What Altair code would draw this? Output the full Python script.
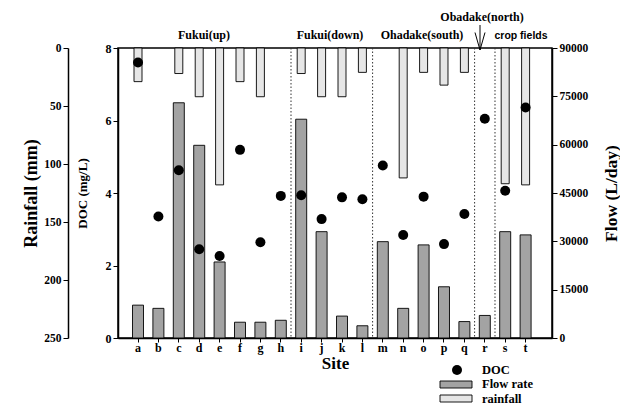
import altair as alt
import pandas as pd

# ---- data ----
sites = list("abcdefghijklmnopqrst")
doc = [7.6, 3.35, 4.63, 2.45, 2.26, 5.19, 2.64, 3.92, 3.94, 3.28,
       3.88, 3.83, 4.76, 2.84, 3.9, 2.59, 3.42, 6.05, 4.06, 6.36]
flow = [10200, 9200, 73000, 59800, 23600, 4900, 4900, 5500, 67900, 33000,
        6800, 3800, 29900, 9200, 28900, 15900, 5100, 7000, 33000, 32000]
rainfall = [29, None, 22, 42, 118, 29, 42, None, 22, 42,
            42, 21, None, 112, 21, 32, 21, None, 117, 118]
separator_sites = ["i", "m", "r", "s"]
flow_ticks = [0, 15000, 30000, 45000, 60000, 75000, 90000]
doc_ticks = [0, 2, 4, 6, 8]
rain_ticks = [0, 50, 100, 150, 200, 250]
legend_labels = ["DOC", "Flow rate", "rainfall"]

df = pd.DataFrame({"site": sites, "doc": doc, "flow": flow, "rainfall": rainfall})
sep_df = pd.DataFrame({"site": separator_sites})

SERIF = "Liberation Serif"
FLOW_FILL = "#a3a3a3"
RAIN_FILL = "#e6e6e6"

x_axis = alt.Axis(title="Site", labelAngle=0, labelFontSize=12, titleFontSize=17,
                  tickSize=4, labelPadding=0, titlePadding=2, domainWidth=1.5)
x_scale = alt.Scale(domain=sites, paddingInner=0, paddingOuter=0.6375, align=0.377)

def xenc(**kw):
    return alt.X("site:N", scale=x_scale, axis=x_axis, **kw)

base = alt.Chart(df)

rain_bars = base.mark_bar(size=8, fill=RAIN_FILL, stroke="black", strokeWidth=0.9).encode(
    x=xenc(),
    y=alt.Y("rainfall:Q",
            scale=alt.Scale(domain=[0, 250], reverse=True, nice=False),
            axis=alt.Axis(orient="left", offset=50, values=rain_ticks, title="Rainfall (mm)",
                          titleFontSize=18, labelFontSize=11.5, titlePadding=3,
                          tickSize=5, domainWidth=1.5)),
)

flow_bars = base.mark_bar(size=11, fill=FLOW_FILL, stroke="black", strokeWidth=0.9).encode(
    x=xenc(),
    y=alt.Y("flow:Q",
            scale=alt.Scale(domain=[0, 90000], nice=False),
            axis=alt.Axis(orient="right", values=flow_ticks, format="d", title="Flow (L/day)",
                          titleFontSize=17.5, labelFontSize=11.5, titlePadding=15,
                          titleAngle=270, titleBaseline="top",
                          tickSize=5, domainWidth=1.5)),
)

doc_pts = base.mark_circle(size=100, color="black", opacity=1).encode(
    x=xenc(),
    y=alt.Y("doc:Q",
            scale=alt.Scale(domain=[0, 8], nice=False),
            axis=alt.Axis(orient="left", values=doc_ticks, title="DOC (mg/L)",
                          titleFontSize=13, labelFontSize=12, titlePadding=16,
                          tickSize=5, domainWidth=1.5)),
)

seps = alt.Chart(sep_df).mark_rule(color="#333333", strokeWidth=1, strokeDash=[1.5, 2]).encode(
    x=xenc(bandPosition=0),
    y=alt.value(0),
    y2=alt.value(290),
)

def note(text, xpx, ypx, font=SERIF, size=12):
    return alt.Chart(pd.DataFrame({"label": [text]})).mark_text(
        font=font, fontSize=size, fontWeight="bold", color="black",
        align="center", baseline="middle"
    ).encode(x=alt.value(xpx), y=alt.value(ypx), text="label:N")

notes = [
    note("Fukui(up)", 86, -13),
    note("Fukui(down)", 212, -13),
    note("Ohadake(south)", 304, -13),
    note("Obadake(north)", 364, -31),
    note("crop fields", 403, -12, font="Liberation Sans", size=10.5),
]

arrow = alt.Chart(pd.DataFrame({"label": ["arrow"]})).mark_point(
    shape="M0,-1L0,1M-0.4,-0.4L0,1L0.4,-0.4", filled=False, stroke="black",
    strokeWidth=1, size=625, opacity=1
).encode(x=alt.value(362), y=alt.value(-10.5))

# ---- manual legend ----
leg_doc = alt.Chart(pd.DataFrame({"label": [legend_labels[0]]})).mark_circle(
    size=100, color="black", opacity=1).encode(x=alt.value(339), y=alt.value(322))
leg_flow = alt.Chart(pd.DataFrame({"label": [legend_labels[1]]})).mark_rect(
    fill=FLOW_FILL, stroke="black", strokeWidth=0.9).encode(
    x=alt.value(322), x2=alt.value(354), y=alt.value(333), y2=alt.value(340))
leg_rain = alt.Chart(pd.DataFrame({"label": [legend_labels[2]]})).mark_rect(
    fill=RAIN_FILL, stroke="black", strokeWidth=0.9).encode(
    x=alt.value(322), x2=alt.value(354), y=alt.value(347), y2=alt.value(354))

def leg_text(text, ypx):
    return alt.Chart(pd.DataFrame({"label": [text]})).mark_text(
        font=SERIF, fontSize=12.5, fontWeight="bold", color="black",
        align="left", baseline="middle"
    ).encode(x=alt.value(364), y=alt.value(ypx), text="label:N")

legend = [leg_doc, leg_flow, leg_rain,
          leg_text(legend_labels[0], 322), leg_text(legend_labels[1], 336),
          leg_text(legend_labels[2], 350.5)]

chart = alt.layer(
    rain_bars, flow_bars, doc_pts, seps, *notes, arrow, *legend
).resolve_scale(
    y="independent"
).properties(
    width=434, height=290,
    autosize=alt.AutoSizeParams(type="none"),
    padding={"left": 110, "top": 40, "right": 68, "bottom": 68},
    background="white",
).configure_view(
    stroke="black", strokeWidth=1.5
).configure_axis(
    grid=False, labelFont=SERIF, titleFont=SERIF, labelFontWeight="bold",
    titleFontWeight="bold", labelColor="black", titleColor="black",
    domainColor="black", tickColor="black"
)

chart.save("out.html", embed_options={"renderer": "svg", "actions": False})
